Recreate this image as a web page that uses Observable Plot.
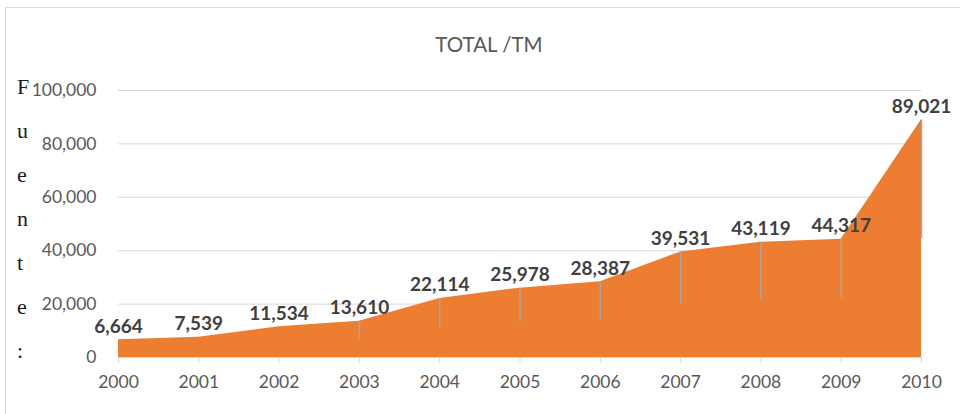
<!DOCTYPE html>
<html>
<head>
<meta charset="utf-8">
<script src="https://cdn.jsdelivr.net/npm/d3@7"></script>
<script src="https://cdn.jsdelivr.net/npm/@observablehq/plot@0.6"></script>
<style>
  html, body { margin: 0; padding: 0; background: #fff; }
  #wrap { position: relative; width: 960px; height: 414px; overflow: hidden; font-family: Lato, "Open Sans", sans-serif; }
  #frame { position: absolute; left: 5px; top: 7px; width: 960px; height: 430px; border: 1px solid #d9d9d9; box-sizing: border-box; }
  #title { position: absolute; left: 0; width: 978px; top: 32px; text-align: center; font-size: 20.5px; color: #595959; }
  .side { position: absolute; left: 17px; font-family: "Liberation Serif", "DejaVu Serif", serif; font-size: 22px; color: #1a1a1a; line-height: 1; }
  #chart { position: absolute; left: 0; top: 0; }
</style>
</head>
<body>
<div id="wrap">
  <div id="frame"></div>
  <div id="chart"></div>
  <div id="title">TOTAL /TM</div>
</div>
<script>
const years = [2000, 2001, 2002, 2003, 2004, 2005, 2006, 2007, 2008, 2009, 2010];
const totals = [6664, 7539, 11534, 13610, 22114, 25978, 28387, 39531, 43119, 44317, 89021];
const yTicks = [0, 20000, 40000, 60000, 80000, 100000];
const leaderYears = [2003, 2004, 2005, 2006, 2007, 2008, 2009, 2010];
const sideLetters = ["F", "u", "e", "n", "t", "e", ":"];

const data = years.map((y, i) => ({year: y, total: totals[i]}));
const leaders = data.filter(d => leaderYears.includes(d.year));
const fmt = d3.format(",");

const chart = Plot.plot({
  width: 960,
  height: 414,
  marginLeft: 118,
  marginRight: 39,
  marginTop: 90,
  marginBottom: 57,
  style: {fontFamily: "Lato, 'Open Sans', sans-serif", fontSize: "17px", color: "#595959", background: "transparent"},
  x: {domain: [2000, 2010], ticks: years, tickFormat: d => String(d), label: null, tickSize: 6, tickPadding: 12},
  y: {domain: [0, 100000], ticks: yTicks, tickFormat: fmt, label: null, tickSize: 0, tickPadding: 22},
  marks: [
    Plot.gridY(yTicks.filter(t => t > 0), {stroke: "#d9d9d9", strokeOpacity: 1, strokeWidth: 1}),
    Plot.areaY(data, {x: "year", y: "total", fill: "#ED7D31"}),
    Plot.ruleX(leaders, {x: "year", y1: d => d.total * 0.5, y2: "total", stroke: "#a6a6a6", strokeWidth: 1.5}),
    Plot.ruleY([0], {stroke: "#d9d9d9"}),
    Plot.axisX({ticks: years, tickFormat: d => String(d), tickSize: 6, tickPadding: 12, stroke: "#d9d9d9", color: "#595959", fontSize: 17.5}),
    Plot.axisY({ticks: yTicks, tickFormat: fmt, tickSize: 0, tickPadding: 22, color: "#595959", fontSize: 17.5}),
    Plot.text(data, {x: "year", y: "total", text: d => fmt(d.total), lineAnchor: "bottom", dy: -7,
      fontWeight: "bold", fontSize: 19, fill: "#404040"})
  ]
});
document.getElementById("chart").appendChild(chart);

const wrap = document.getElementById("wrap");
sideLetters.forEach((ch, i) => {
  const el = document.createElement("div");
  el.className = "side";
  el.textContent = ch;
  el.style.top = (76 + i * 44) + "px";
  wrap.appendChild(el);
});
</script>
</body>
</html>
